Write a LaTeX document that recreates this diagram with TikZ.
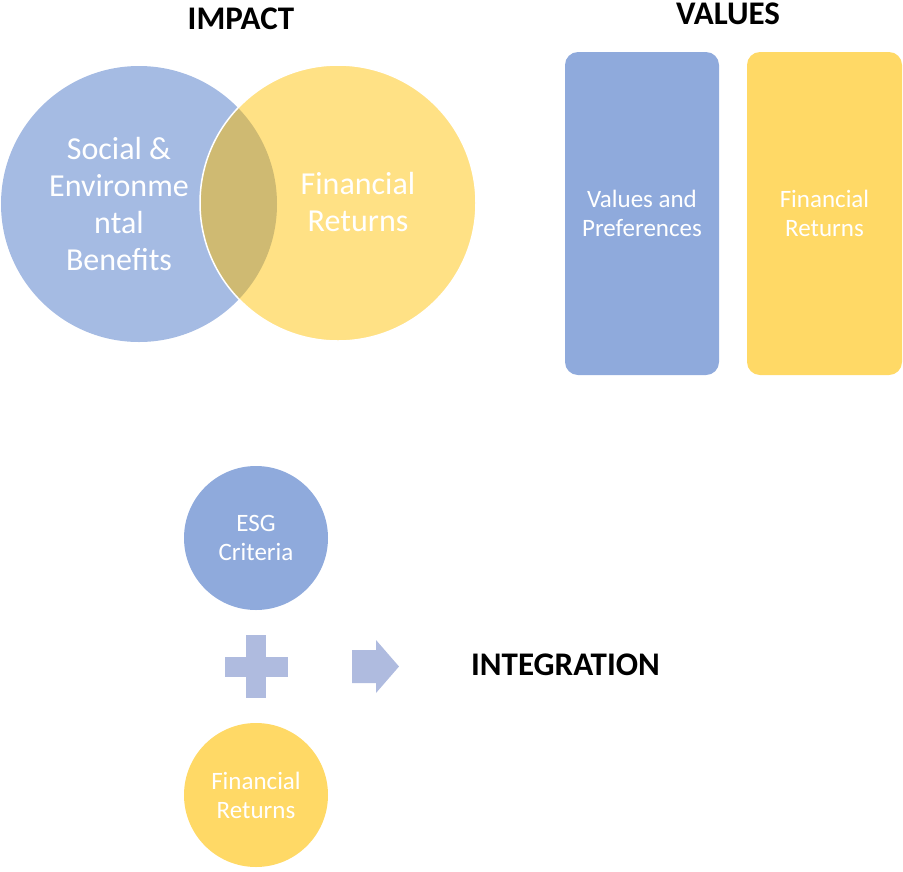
\documentclass[tikz,border=0pt]{standalone}
\usepackage{fontspec}
\setmainfont{Carlito}

\definecolor{esgblue}{HTML}{8FAADC}
\definecolor{finyellow}{HTML}{FFD966}
\definecolor{overlapgold}{HTML}{CFBA72}
\definecolor{signblue}{HTML}{AFBBDF}

\tikzset{
  heading/.style={font=\fontsize{33}{40}\selectfont\bfseries},
  whitetext/.style={text=white, align=center},
  valbox/.style={whitetext, rounded corners=13pt, minimum width=154pt,
    minimum height=323pt, font=\fontsize{25}{29}\selectfont},
  disc/.style={whitetext, circle, minimum size=144pt, inner sep=0pt,
    font=\fontsize{25}{29}\selectfont},
}

\begin{document}
\begin{tikzpicture}[x=1pt, y=-1pt]
\useasboundingbox (0, 0) rectangle (903, 871);

\pgfmathsetmacro{\rad}{138}

% impact: two overlapping circles
\node[heading] (impact) at (241, 19) {IMPACT};
\fill[esgblue!80] (139, 204) circle[radius=\rad];
\fill[finyellow!80] (338, 203) circle[radius=\rad];
\begin{scope}
  \clip (139, 204) circle[radius=\rad];
  \fill[overlapgold] (338, 203) circle[radius=\rad];
\end{scope}
\draw[white, line width=1.5pt] (338, 203) circle[radius=\rad];
\node[whitetext, font=\fontsize{32}{37}\selectfont] (benefits) at (119, 204)
  {Social \&\\Environme\\ntal\\Benefits};
\node[whitetext, font=\fontsize{32}{37}\selectfont] (returns) at (358, 202)
  {Financial\\Returns};

% values: two tall boxes
\node[heading] (values) at (728, 14) {VALUES};
\node[valbox, fill=esgblue] (prefs) at (642, 213.5) {Values and\\Preferences};
\node[valbox, fill=finyellow, minimum width=155pt] (valreturns) at (824.5, 213.5)
  {Financial\\Returns};

% integration: circle + circle => label
\node[disc, fill=esgblue] (esg) at (256, 538) {ESG\\Criteria};
\node[disc, fill=finyellow] (intreturns) at (256, 795) {Financial\\Returns};
\coordinate (plus) at (256, 666.5);
\fill[signblue] ([shift={(-31.5, -10)}]plus) rectangle ([shift={(31.5, 10)}]plus);
\fill[signblue] ([shift={(-10, -31.5)}]plus) rectangle ([shift={(10, 31.5)}]plus);
\coordinate (arrow) at (352, 666.5);
\fill[signblue] ([shift={(0, -16.5)}]arrow) -- ++(24, 0) -- ++(0, -10) -- ++(23, 26.5)
  -- ++(-23, 26.5) -- ++(0, -10) -- ++(-24, 0) -- cycle;
\node[heading] (integration) at (565.5, 665) {INTEGRATION};
\end{tikzpicture}
\end{document}
